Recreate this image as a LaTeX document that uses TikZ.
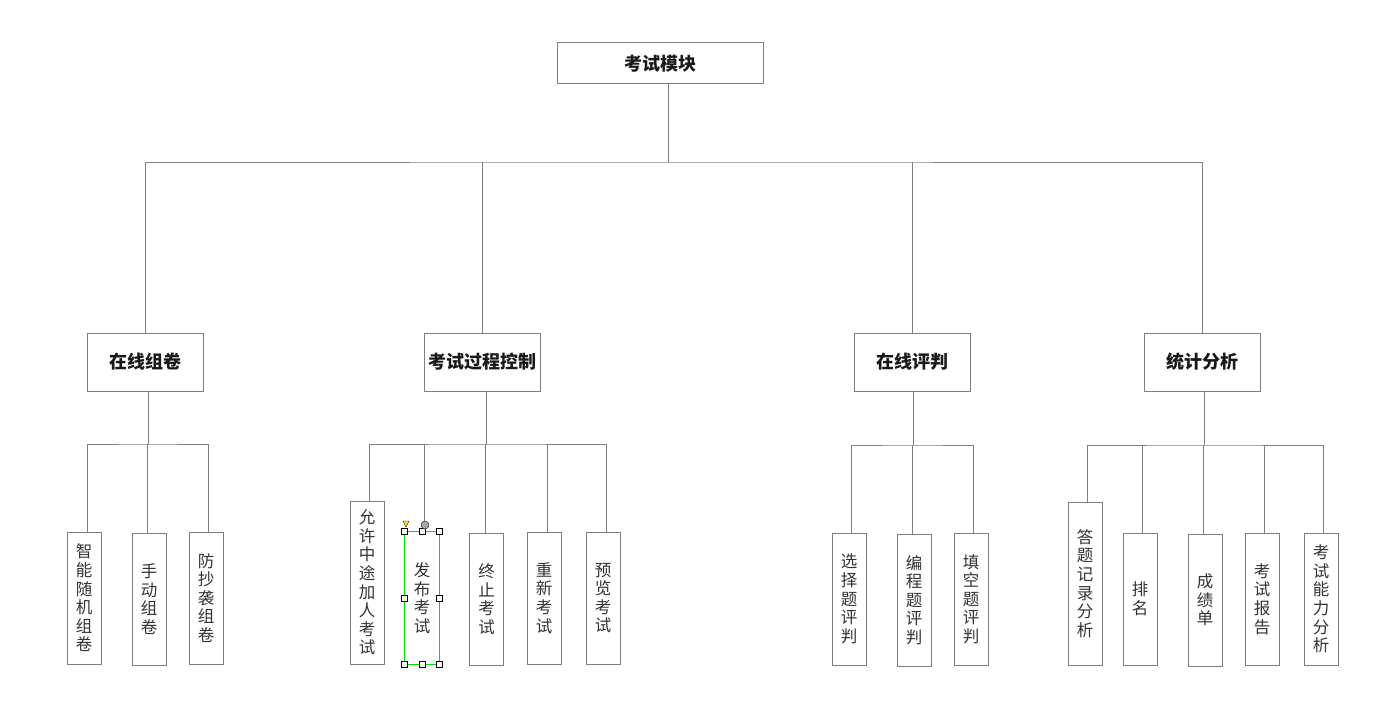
\documentclass[tikz,border=0pt]{standalone}
\usepackage{fontspec}
\newfontfamily\cjk{Noto Sans CJK SC}
\definecolor{linegray}{HTML}{7F7F7F}
\definecolor{txtgray}{HTML}{333333}
\definecolor{selgreen}{HTML}{00E000}
\begin{document}
\begin{tikzpicture}[x=1pt,y=-1pt,
  box/.style={draw=linegray, line width=1pt, inner sep=0pt, fill=white},
  topbox/.style={box, minimum width=206pt, minimum height=41pt, font=\cjk\bfseries\fontsize{18}{20}\selectfont, text=black!90},
  midbox/.style={box, minimum width=116pt, minimum height=58pt, font=\cjk\bfseries\fontsize{18}{20}\selectfont, text=black!90},
  leaf/.style={box, minimum width=34pt, minimum height=132pt, align=center, font=\cjk\fontsize{16.5}{18.6}\selectfont, text=txtgray},
  tallleaf/.style={leaf, minimum height=163pt},
  selleaf/.style={leaf, draw=none, fill=none},
  conn/.style={draw=linegray, line width=1pt},
  handle/.style={draw=black, fill=white, line width=0.6pt, minimum size=6pt, inner sep=0pt},
]
\useasboundingbox (0,0) rectangle (1387,701);

% root and level 2
\node[topbox] (root) at (660,63.5) {考试模块};
\node[midbox] (A) at (145,362) {在线组卷};
\node[midbox] (B) at (482.5,362) {考试过程控制};
\node[midbox] (C) at (912.5,362) {在线评判};
\node[midbox] (D) at (1202.5,362) {统计分析};

\coordinate (bus0) at (668,162);
\draw[conn] ([xshift=8pt]root.south) -- (bus0);
\draw[conn] (A.north) |- (bus0) -| (D.north);
\draw[conn] (B.north) -- (B.north |- bus0);
\draw[conn] (C.north) -- (C.north |- bus0);

% leaves A
\node[leaf] (A1) at (84,598) {智\\能\\随\\机\\组\\卷};
\node[leaf] (A2) at (149,599) {手\\动\\组\\卷};
\node[leaf] (A3) at (206,598) {防\\抄\\袭\\组\\卷};
\coordinate (busA) at (148,444);
\draw[conn] ([xshift=3pt]A.south) -- (busA);
\draw[conn] ([xshift=3pt]A1.north) |- (busA) -| ([xshift=2pt]A3.north);
\draw[conn] ([xshift=-2pt]A2.north) -- ([xshift=-2pt]A2.north |- busA);

% leaves B
\node[tallleaf] (B1) at (367,582.5) {允\\许\\中\\途\\加\\人\\考\\试};
\node[selleaf] (B2) at (422,598) {发\\布\\考\\试};
\draw[selgreen, line width=1.2pt] (B2.north west) rectangle (B2.south east);
\node[leaf] (B3) at (486.5,599) {终\\止\\考\\试};
\node[leaf] (B4) at (544,598) {重\\新\\考\\试};
\node[leaf] (B5) at (603,598) {预\\览\\考\\试};
\coordinate (busB) at (486,444);
\coordinate (B2top) at (424,525);
\draw[conn] ([xshift=3.5pt]B.south) -- (busB);
\draw[conn] ([xshift=2pt]B1.north) |- (busB) -| ([xshift=3pt]B5.north);
\draw[conn] (B2top) -- (B2top |- busB);
\draw[conn] ([xshift=-1.5pt]B3.north) -- ([xshift=-1.5pt]B3.north |- busB);
\draw[conn] ([xshift=3pt]B4.north) -- ([xshift=3pt]B4.north |- busB);
% selection handles on B2
\foreach \a in {north west,north,north east,west,east,south west,south,south east}
  \node[handle] at (B2.\a) {};
\fill[yellow!85!orange, draw=black, line width=0.4pt] (403,521) -- (409,521) -- (406,527) -- cycle;
\node[circle, draw=black!80, fill=black!35, line width=0.5pt, minimum size=8pt, inner sep=0pt] (B2rot) at (425,525) {};

% leaves C
\node[leaf] (C1) at (849,599) {选\\择\\题\\评\\判};
\node[leaf] (C2) at (914,600) {编\\程\\题\\评\\判};
\node[leaf] (C3) at (971,599) {填\\空\\题\\评\\判};
\coordinate (busC) at (913,445);
\draw[conn] ([xshift=0.5pt]C.south) -- (busC);
\draw[conn] ([xshift=2pt]C1.north) |- (busC) -| ([xshift=2pt]C3.north);
\draw[conn] ([xshift=-2pt]C2.north) -- ([xshift=-2pt]C2.north |- busC);

% leaves D
\node[tallleaf] (D1) at (1085,583.5) {答\\题\\记\\录\\分\\析};
\node[leaf] (D2) at (1140,599) {排\\名};
\node[leaf] (D3) at (1205,600) {成\\绩\\单};
\node[leaf] (D4) at (1262,599) {考\\试\\报\\告};
\node[leaf] (D5) at (1321,599) {考\\试\\能\\力\\分\\析};
\coordinate (busD) at (1204,445);
\draw[conn] ([xshift=1.5pt]D.south) -- (busD);
\draw[conn] ([xshift=2pt]D1.north) |- (busD) -| ([xshift=2pt]D5.north);
\draw[conn] ([xshift=2pt]D2.north) -- ([xshift=2pt]D2.north |- busD);
\draw[conn] ([xshift=-2pt]D3.north) -- ([xshift=-2pt]D3.north |- busD);
\draw[conn] ([xshift=2pt]D4.north) -- ([xshift=2pt]D4.north |- busD);
\end{tikzpicture}
\end{document}
